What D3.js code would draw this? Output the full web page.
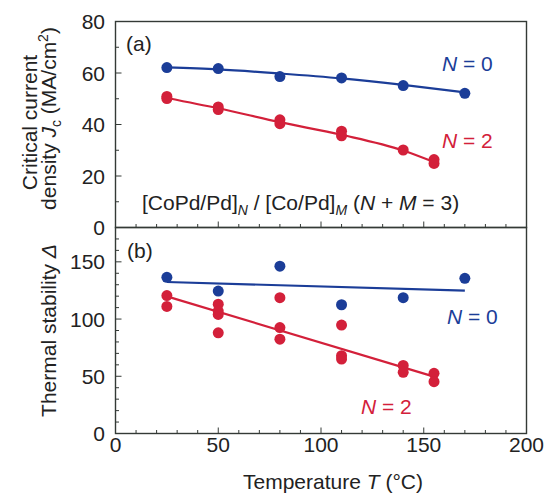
<!DOCTYPE html>
<html><head><meta charset="utf-8">
<script src="https://cdn.jsdelivr.net/npm/d3@7"></script>
<style>body{margin:0;background:#fff;} text{font-family:"Liberation Sans",Arial,sans-serif;fill:#222;}</style>
</head><body><svg id="c" width="544" height="502"></svg>
<script>
// ---- data ----
const temps = [25, 50, 80, 110, 140, 170];
const jcN0 = [62.1, 61.7, 58.6, 58.1, 55.1, 52.1];
const jcN0FitT = [25, 50, 80, 110, 140, 170];
const jcN0Fit = [62.2, 61.4, 59.8, 57.9, 55.4, 52.5];
const jcN2T = [25, 25, 50, 50, 80, 80, 110, 110, 140, 155, 155];
const jcN2 = [50.9, 50.1, 46.8, 45.8, 41.8, 40.3, 37.4, 35.6, 30.1, 26.4, 24.9];
const jcN2FitT = [25, 50, 80, 110, 140, 155];
const jcN2Fit = [50.3, 46.3, 40.9, 36.0, 29.9, 25.4];
const thN0 = [136.5, 124.5, 146.2, 112.5, 118.7, 135.6];
const thN0FitT = [25, 170];
const thN0Fit = [132.4, 124.8];
const thN2T = [25, 25, 50, 50, 50, 50, 80, 80, 80, 110, 110, 110, 140, 140, 155, 155];
const thN2 = [120.5, 111, 113, 107, 104, 88, 118.7, 92.6, 82.4, 94.7, 68, 65, 59.5, 53.5, 52.6, 45.3];
const thN2FitT = [25, 155];
const thN2Fit = [119.8, 49.7];
const xTicks = [0, 50, 100, 150, 200];
const jcTicks = [0, 20, 40, 60, 80];
const thTicks = [0, 50, 100, 150];

const BLUE = "#1b3d98", RED = "#d3203a", FRAME = "#343a36";
const FS = 21, SUB = 14;
const svg = d3.select("#c");
const L = 115.5, R = 526.5, T1 = 21.5, B1 = 227.5, B2 = 433.5;
const x = d3.scaleLinear().domain([0, 200]).range([L, R]);
const yA = d3.scaleLinear().domain([0, 80]).range([B1, T1]);
const yB = d3.scaleLinear().domain([0, 180]).range([B2, B1]);

function frame(y0, y1) {
  svg.append("rect").attr("x", L).attr("y", y0).attr("width", R - L).attr("height", y1 - y0)
    .attr("fill", "none").attr("stroke", FRAME).attr("stroke-width", 1.4);
}
function leftAxis(y, step, labels) {
  const [d0, d1] = y.domain();
  const g = svg.append("g");
  d3.range(d0, d1 + 0.001, 10).forEach(v => {
    const isMaj = Math.abs(v % step) < 1e-6;
    g.append("line").attr("x1", L).attr("x2", L + (isMaj ? 6 : 3.5))
      .attr("y1", y(v)).attr("y2", y(v)).attr("stroke", FRAME).attr("stroke-width", 1);
  });
  labels.forEach(v => {
    g.append("text").attr("x", 105).attr("y", y(v) + 7.5).attr("text-anchor", "end")
      .attr("font-size", FS).text(v);
  });
}
function bottomTicks(yPos) {
  const g = svg.append("g");
  d3.range(0, 200.001, 10).forEach(v => {
    const isMaj = v % 50 === 0;
    g.append("line").attr("x1", x(v)).attr("x2", x(v))
      .attr("y1", yPos).attr("y2", yPos - (isMaj ? 6 : 3.5)).attr("stroke", FRAME).attr("stroke-width", 1);
  });
}

frame(T1, B1); frame(B1, B2);
leftAxis(yA, 20, jcTicks);
leftAxis(yB, 50, thTicks);
bottomTicks(B1); bottomTicks(B2);
xTicks.forEach(v => {
  svg.append("text").attr("x", x(v)).attr("y", 452).attr("text-anchor", "middle")
    .attr("font-size", FS).text(v);
});

function fitLine(y, ts, vs, color, curved) {
  const line = d3.line().x(d => x(d[0])).y(d => y(d[1]));
  if (curved) line.curve(d3.curveMonotoneX);
  svg.append("path").datum(ts.map((t, i) => [t, vs[i]])).attr("d", line)
    .attr("fill", "none").attr("stroke", color).attr("stroke-width", 2.2);
}
function dots(y, ts, vs, color) {
  svg.append("g").selectAll("circle").data(ts.map((t, i) => [t, vs[i]])).join("circle")
    .attr("cx", d => x(d[0])).attr("cy", d => y(d[1])).attr("r", 5.5).attr("fill", color);
}

fitLine(yA, jcN0FitT, jcN0Fit, BLUE, true);
fitLine(yA, jcN2FitT, jcN2Fit, RED, true);
dots(yA, temps, jcN0, BLUE);
dots(yA, jcN2T, jcN2, RED);
fitLine(yB, thN0FitT, thN0Fit, BLUE, false);
fitLine(yB, thN2FitT, thN2Fit, RED, false);
dots(yB, temps, thN0, BLUE);
dots(yB, thN2T, thN2, RED);

function nLabel(xp, yp, val, color) {
  const t = svg.append("text").attr("x", xp).attr("y", yp).attr("font-size", FS).style("fill", color);
  t.append("tspan").attr("font-style", "italic").text("N");
  t.append("tspan").text(" = " + val);
}
svg.append("text").attr("x", 126).attr("y", 51).attr("font-size", FS).text("(a)");
svg.append("text").attr("x", 127).attr("y", 258).attr("font-size", FS).text("(b)");
nLabel(442, 71, 0, BLUE);
nLabel(442, 148, 2, RED);
nLabel(447, 324, 0, BLUE);
nLabel(361, 414, 2, RED);

// composition label
const comp = svg.append("text").attr("x", 142).attr("y", 210).attr("font-size", FS);
comp.append("tspan").text("[CoPd/Pd]");
comp.append("tspan").attr("font-style", "italic").attr("font-size", SUB).attr("dy", 5).text("N");
comp.append("tspan").attr("dy", -5).text(" / [Co/Pd]");
comp.append("tspan").attr("font-style", "italic").attr("font-size", SUB).attr("dy", 5).text("M");
comp.append("tspan").attr("dy", -5).text(" (");
comp.append("tspan").attr("font-style", "italic").text("N");
comp.append("tspan").text(" + ");
comp.append("tspan").attr("font-style", "italic").text("M");
comp.append("tspan").text(" = 3)");

// y titles
const yc1 = (T1 + B1) / 2;
svg.append("text").attr("transform", `translate(37,${yc1 - 2}) rotate(-90)`).attr("text-anchor", "middle")
  .attr("font-size", FS).text("Critical current");
const t2 = svg.append("text").attr("transform", `translate(56,${yc1 - 6}) rotate(-90)`).attr("text-anchor", "middle")
  .attr("font-size", FS);
t2.append("tspan").text("density ");
t2.append("tspan").attr("font-style", "italic").text("J");
t2.append("tspan").attr("font-size", SUB).attr("dy", 5).text("c");
t2.append("tspan").attr("dy", -5).text(" (MA/cm");
t2.append("tspan").attr("font-size", SUB).attr("dy", -8).text("2");
t2.append("tspan").attr("dy", 8).text(")");
const yc2 = (B1 + B2) / 2;
const t3 = svg.append("text").attr("transform", `translate(56,${yc2}) rotate(-90)`).attr("text-anchor", "middle")
  .attr("font-size", FS);
t3.append("tspan").text("Thermal stability ");
t3.append("tspan").attr("font-style", "italic").text("Δ");

const xt = svg.append("text").attr("x", 333).attr("y", 489).attr("text-anchor", "middle").attr("font-size", FS);
xt.append("tspan").text("Temperature ");
xt.append("tspan").attr("font-style", "italic").text("T");
xt.append("tspan").text(" (°C)");
</script></body></html>
